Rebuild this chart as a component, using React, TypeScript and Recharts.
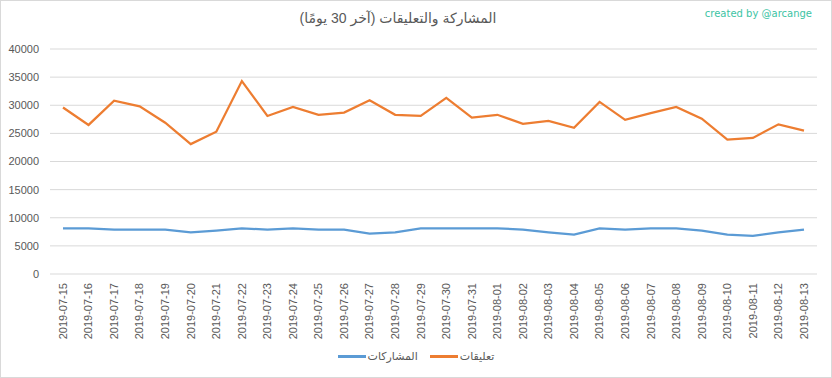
import { LineChart, Line, XAxis, YAxis, CartesianGrid, Legend } from "recharts";

// Dates on the x axis (last 30 days)
const DATES = [
  "2019-07-15", "2019-07-16", "2019-07-17", "2019-07-18", "2019-07-19",
  "2019-07-20", "2019-07-21", "2019-07-22", "2019-07-23", "2019-07-24",
  "2019-07-25", "2019-07-26", "2019-07-27", "2019-07-28", "2019-07-29",
  "2019-07-30", "2019-07-31", "2019-08-01", "2019-08-02", "2019-08-03",
  "2019-08-04", "2019-08-05", "2019-08-06", "2019-08-07", "2019-08-08",
  "2019-08-09", "2019-08-10", "2019-08-11", "2019-08-12", "2019-08-13",
];

// المشاركات (posts) — blue
const POSTS = [
  8100, 8100, 7900, 7900, 7900, 7400, 7700, 8100, 7900, 8100,
  7900, 7900, 7200, 7400, 8100, 8100, 8100, 8100, 7900, 7400,
  7000, 8100, 7900, 8100, 8100, 7700, 7000, 6800, 7400, 7900,
];

// تعليقات (comments) — orange
const COMMENTS = [
  29600, 26500, 30800, 29800, 26900, 23100, 25300, 34300, 28100, 29700,
  28300, 28700, 30900, 28300, 28100, 31300, 27800, 28300, 26700, 27200,
  26000, 30600, 27400, 28600, 29700, 27600, 23900, 24200, 26600, 25500,
];

const Y_TICKS = [0, 5000, 10000, 15000, 20000, 25000, 30000, 35000, 40000];

const POSTS_LABEL = "المشاركات";
const COMMENTS_LABEL = "تعليقات";
const TITLE = "المشاركة والتعليقات (آخر 30 يومًا)";

const BLUE = "#5B9BD5";
const ORANGE = "#ED7D31";
const TEXT = "#595959";
const FONT = "'Liberation Sans', Arial, 'DejaVu Sans', sans-serif";

const data = DATES.map((date, i) => ({
  date,
  posts: POSTS[i],
  comments: COMMENTS[i],
}));

function DateTick({ x, y, payload }: any) {
  return (
    <text
      x={x}
      y={y + 1}
      transform={`rotate(-90 ${x} ${y + 1})`}
      textAnchor="end"
      dy="0.35em"
      fill={TEXT}
      fontSize={11}
      fontFamily={FONT}
    >
      {payload.value}
    </text>
  );
}

function LegendContent() {
  const items = [
    { label: POSTS_LABEL, color: BLUE },
    { label: COMMENTS_LABEL, color: ORANGE },
  ];
  return (
    <div
      style={{
        display: "flex",
        justifyContent: "center",
        alignItems: "center",
        gap: 12,
        height: 20,
        fontFamily: FONT,
        fontSize: 11,
        color: TEXT,
      }}
    >
      {items.map((it) => (
        <div key={it.label} style={{ display: "flex", alignItems: "center", gap: 2 }}>
          <span style={{ display: "inline-block", width: 28, height: 3, background: it.color }} />
          <span dir="rtl">{it.label}</span>
        </div>
      ))}
    </div>
  );
}

export default function App() {
  return (
    <div style={{ position: "absolute", left: 0, top: 0, width: 832, height: 378, background: "#fff" }}>
      <LineChart
        width={832}
        height={378}
        data={data}
        margin={{ top: 49, right: 15, bottom: 12, left: 0 }}
      >
        <CartesianGrid vertical={false} stroke="#d9d9d9" />
        <XAxis
          dataKey="date"
          axisLine={false}
          tickLine={false}
          interval={0}
          height={72}
          padding={{ left: 13, right: 13 }}
          tick={<DateTick />}
        />
        <YAxis
          domain={[0, 40000]}
          ticks={Y_TICKS}
          axisLine={false}
          tickLine={false}
          tickMargin={5}
          width={50}
          tick={{ fill: TEXT, fontSize: 11, fontFamily: FONT }}
        />
        <Legend
          verticalAlign="bottom"
          wrapperStyle={{ left: 0, width: 832, height: 20 }}
          content={<LegendContent />}
        />
        <Line
          type="linear"
          dataKey="posts"
          name={POSTS_LABEL}
          stroke={BLUE}
          strokeWidth={2.25}
          dot={false}
          isAnimationActive={false}
        />
        <Line
          type="linear"
          dataKey="comments"
          name={COMMENTS_LABEL}
          stroke={ORANGE}
          strokeWidth={2.25}
          dot={false}
          isAnimationActive={false}
        />
      </LineChart>

      <div
        dir="rtl"
        style={{
          position: "absolute",
          left: 0,
          width: 796,
          top: 10,
          textAlign: "center",
          fontFamily: FONT,
          fontSize: 14,
          color: TEXT,
        }}
      >
        {TITLE}
      </div>
      <div
        style={{
          position: "absolute",
          right: 20,
          top: 8,
          fontFamily: "'DejaVu Sans', Verdana, sans-serif",
          fontSize: 10,
          color: "#3cc4a4",
        }}
      >
        created by @arcange
      </div>
      <div
        style={{
          position: "absolute",
          inset: 0,
          border: "1px solid #d9d9d9",
          boxSizing: "border-box",
          pointerEvents: "none",
        }}
      />
    </div>
  );
}
